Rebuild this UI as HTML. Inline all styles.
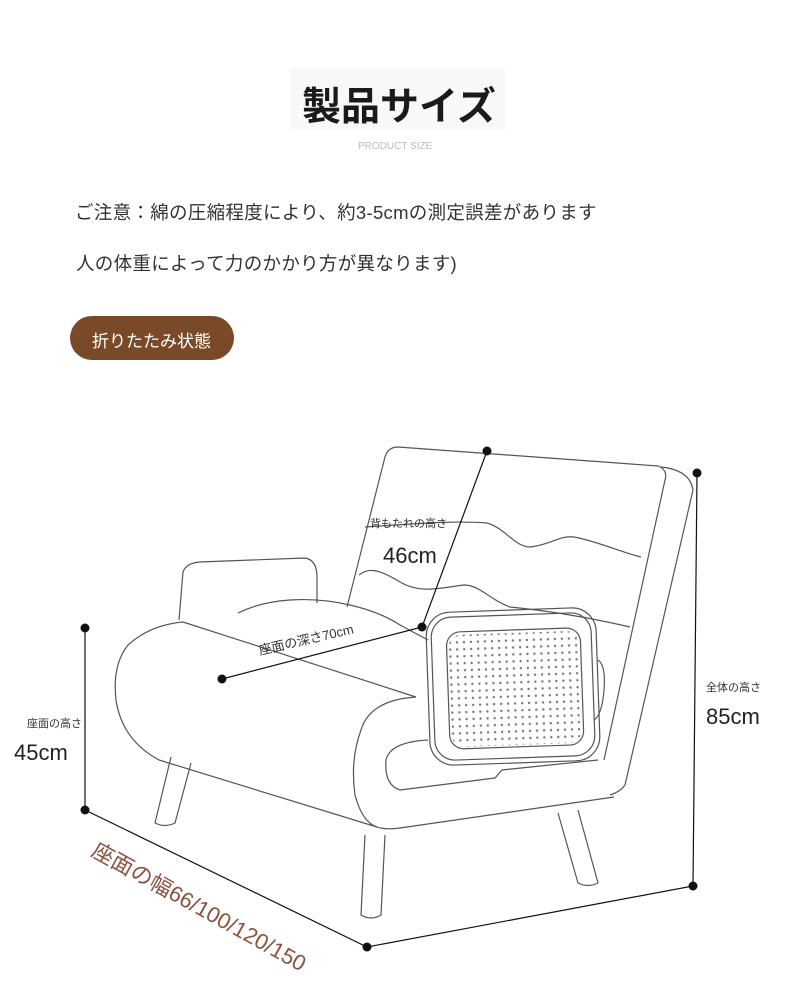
<!DOCTYPE html>
<html><head><meta charset="utf-8"><style>
body{margin:0;background:#fff;}
.w{position:relative;width:790px;height:990px;overflow:hidden;font-family:"Liberation Sans","Noto Sans CJK JP",sans-serif;}
.t{position:absolute;white-space:nowrap;}
</style></head><body><div class="w">
<div style="position:absolute;left:290px;top:68px;width:215px;height:62px;background:#f8f8f8"></div>
<div class="t" style="left:302px;top:76px;font-size:39px;font-weight:bold;color:#1a1a1a;letter-spacing:0px">製品サイズ</div>
<div class="t" style="left:358px;top:141px;font-size:10px;color:#bbb">PRODUCT SIZE</div>
<div class="t" style="left:75px;top:199px;font-size:18.5px;color:#333;letter-spacing:0.3px">ご注意：綿の圧縮程度により、約3-5cmの測定誤差があります</div>
<div class="t" style="left:76px;top:250px;font-size:18.5px;color:#333;letter-spacing:0.3px">人の体重によって力のかかり方が異なります)</div>
<div style="position:absolute;left:70px;top:316px;width:164px;height:44px;border-radius:22px;background:#7a4a28"></div>
<div class="t" style="left:92px;top:327px;font-size:17px;color:#fff">折りたたみ状態</div>
<svg width="790" height="990" style="position:absolute;left:0;top:0">
<defs><pattern id="d" width="7" height="7" patternUnits="userSpaceOnUse"><circle cx="3.5" cy="3.5" r="1.2" fill="#777"/></pattern></defs>
<g fill="none" stroke="#555" stroke-width="1.2" stroke-linejoin="round">
<path d="M347,607 L385,457 Q388,447 398,447 L658,466 Q668,470 665,480 L604,760"/>
<path d="M661,467 Q690,470 693,490 L625,785 Q620,792 610,795"/>
<path d="M359,575 C368,568 377,568 400,582 C420,594 440,588 464,585 C480,585 490,600 510,607 C560,612 600,620 630,627"/>
<path d="M365,527 C400,525 450,520 487,523 C505,528 515,547 530,547 C550,545 560,535 574,537 C600,542 620,552 641,557"/>
<path d="M179,620 L183,572 Q186,563 200,562 L305,558 Q317,560 317,577 L317,603"/>
<path d="M183,622 Q150,625 128,645 Q112,665 116,700 Q122,740 159,760 L377,827 Q385,830 400,828 L614,797"/>
<path d="M183,622 L416,697"/>
<path d="M238,613 Q260,602 290,600 Q320,598 350,605 Q380,612 400,625 L428,640"/>
<path d="M416,697 Q370,700 361,730 Q350,760 355,795 Q362,822 377,827"/>
<rect x="428" y="610" width="170" height="153" rx="24" transform="rotate(-2 513 686)"/>
<rect x="433" y="615" width="160" height="143" rx="20" transform="rotate(-2 513 686)"/>
<rect x="448" y="630" width="134" height="117" rx="14" transform="rotate(-2 513 686)"/>
<rect x="450" y="633" width="130" height="112" rx="12" fill="url(#d)" stroke="none" transform="rotate(-2 513 686)"/>
<path d="M428,740 Q390,742 386,760 Q384,785 400,790 L495,778 L502,770 L598,760"/>
<path d="M598,660 Q606,665 604,690 Q602,715 594,720"/>
<path d="M171,757 L155,823 Q165,828 175,823 L191,763"/>
<path d="M365,835 L361,915 Q371,921 381,915 L385,835"/>
<path d="M558,813 L578,883 Q588,888 598,883 L578,810"/>
</g>
<g stroke="#111" stroke-width="1.2" fill="none">
<path d="M487,451 L422,627 M222,679 L422,627 M697,473 L693,886 M85,628 L85,810 L367,947 L693,886"/>
</g>
<g fill="#111">
<circle cx="487" cy="451" r="4.5"/><circle cx="697" cy="473" r="4.5"/><circle cx="693" cy="886" r="4.5"/><circle cx="367" cy="947" r="4.5"/><circle cx="85" cy="810" r="4.5"/><circle cx="85" cy="628" r="4.5"/><circle cx="222" cy="679" r="4.5"/><circle cx="422" cy="627" r="4.5"/>
</g>
<text x="370" y="527" font-size="11" fill="#333" font-family="Liberation Sans,Noto Sans CJK JP,sans-serif">背もたれの高さ</text>
<text x="383" y="563" font-size="22" fill="#222" font-family="Liberation Sans,Noto Sans CJK JP,sans-serif">46cm</text>
<text x="260" y="655" font-size="13" fill="#333" transform="rotate(-13 260 655)" font-family="Liberation Sans,Noto Sans CJK JP,sans-serif">座面の深さ70cm</text>
<text x="706" y="691" font-size="11" fill="#333" font-family="Liberation Sans,Noto Sans CJK JP,sans-serif">全体の高さ</text>
<text x="706" y="724" font-size="22" fill="#222" font-family="Liberation Sans,Noto Sans CJK JP,sans-serif">85cm</text>
<text x="27" y="727" font-size="11" fill="#333" font-family="Liberation Sans,Noto Sans CJK JP,sans-serif">座面の高さ</text>
<text x="14" y="760" font-size="22" fill="#222" font-family="Liberation Sans,Noto Sans CJK JP,sans-serif">45cm</text>
<text x="90" y="855" font-size="22" fill="#8b5240" transform="rotate(29 90 855)" font-family="Liberation Sans,Noto Sans CJK JP,sans-serif">座面の幅66/100/120/150</text>
</svg>
</div></body></html>
